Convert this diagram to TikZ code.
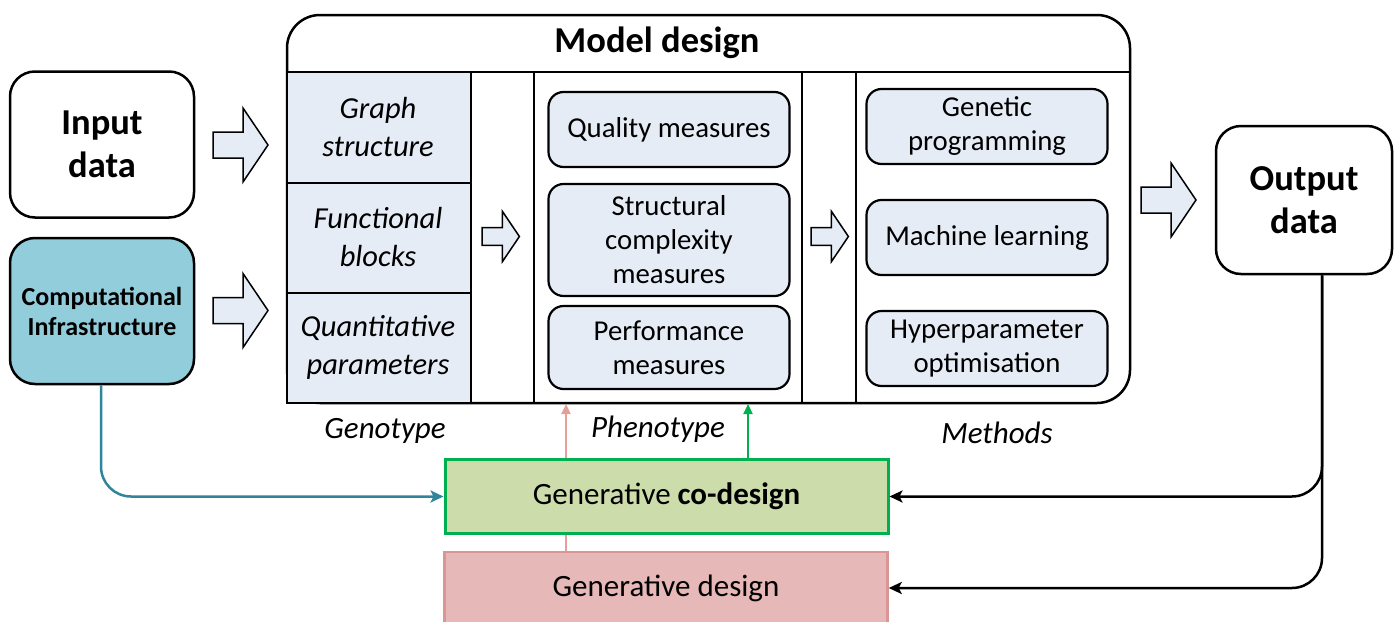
\documentclass[tikz,border=0pt]{standalone}
\usepackage{fontspec}
\setmainfont{Carlito}
\usetikzlibrary{arrows.meta,calc}
\definecolor{lblue}{RGB}{230,236,246}
\definecolor{tealfill}{RGB}{146,205,220}
\definecolor{tealline}{RGB}{49,133,155}
\definecolor{cdfill}{RGB}{204,220,170}
\definecolor{cdline}{RGB}{0,176,80}
\definecolor{gdfill}{RGB}{230,184,183}
\definecolor{gdline}{RGB}{217,150,148}
\definecolor{pinkline}{RGB}{228,160,152}
\tikzset{
  bigbox/.style={draw, line width=2.5pt, rounded corners=25pt, fill=white, align=center,
    minimum width=184pt, minimum height=146pt, inner sep=0pt,
    font=\fontsize{36.5}{43}\selectfont\bfseries},
  inbox/.style={draw, line width=2.2pt, rounded corners=15pt, fill=lblue, align=center,
    minimum width=241pt, inner sep=0pt, font=\fontsize{28.8}{34}\selectfont},
  genotext/.style={align=center, inner sep=0pt, font=\fontsize{30.5}{38}\selectfont\itshape},
  collabel/.style={inner sep=0pt, font=\fontsize{31}{36}\selectfont\itshape},
  colline/.style={line width=1.5pt},
  barrow/.pic={\draw[line width=1.5pt, fill=lblue, line join=miter]
     (0,-13) -- (30,-13) -- (30,-37) -- (55,0) -- (30,37) -- (30,13) -- (0,13) -- cycle;},
  tip/.style={-{Stealth[length=13pt,width=12pt,inset=3pt]}},
  smalltip/.style={-{Triangle[length=10pt,width=9pt]}}
}
\begin{document}
\begin{tikzpicture}[x=1pt,y=-1pt]
\useasboundingbox (0,0) rectangle (1394,621);

% input side
\node[bigbox] (in) at (102,144.5) {Input\\data};
\node[bigbox, fill=tealfill, font=\fontsize{26}{30}\selectfont\bfseries] (ci) at (102,311) {Computational\\Infrastructure};
\pic at (213,145) {barrow};
\pic at (213,310.5) {barrow};

% model design box
\node[draw, line width=2.5pt, rounded corners=33pt, fill=white, minimum width=843pt,
      minimum height=388pt, inner sep=0pt] (model) at (708.5,209) {};
\fill[lblue] (287,72) rectangle (471,403);
\draw[line width=2.5pt] (287,60) -- (287,403) -- (600,403);
\draw[line width=2.5pt] (model.west |- 0,72) -- (model.east |- 0,72);
\node[inner sep=0pt, font=\fontsize{36.5}{42}\selectfont\bfseries] (title) at (657,43) {Model design};
\foreach \x in {471,534,802,856} \draw[colline] (\x,72) -- (\x,403);
\draw[colline] (287,183) -- (471,183);
\draw[colline] (287,293) -- (471,293);

\node[genotext] (g1) at (378,127) {Graph\\structure};
\node[genotext] (g2) at (378,237) {Functional\\blocks};
\node[genotext] (g3) at (378,347) {Quantitative\\parameters};

\pic[scale=0.68] at (482,236.5) {barrow};
\pic[scale=0.68] at (811,236.5) {barrow};

\node[inbox, minimum height=75pt] (q) at (669,129.5) {Quality measures};
\node[inbox, minimum height=112pt] (s) at (669,240) {Structural\\complexity\\measures};
\node[inbox, minimum height=83pt] (p) at (669,347.5) {Performance\\measures};

\node[inbox, minimum height=75pt] (gp) at (987,126.5) {Genetic\\programming};
\node[inbox, minimum height=75pt] (ml) at (987,237.5) {Machine learning};
\node[inbox, minimum height=75pt] (hp) at (987,348.5) {Hyperparameter\\optimisation};

\node[collabel] (lg) at (385,431) {Genotype};
\node[collabel] (lp) at (658,429) {Phenotype};
\node[collabel] (lm) at (997,433) {Methods};

% output
\pic at (1141,200) {barrow};
\node[bigbox, minimum width=176pt, minimum height=148pt] (out) at (1304,200) {Output\\data};

% bottom boxes
\coordinate (pk) at (566,0);
\coordinate (gr) at (748,0);
\coordinate (mb) at (0,404);
\node[draw=gdline, line width=2.5pt, fill=gdfill, minimum width=443pt, minimum height=72pt,
      inner sep=0pt, font=\fontsize{31}{36}\selectfont] (gd) at (666,588) {Generative design};
\draw[pinkline, line width=2.2pt, smalltip] (gd.north -| pk) -- (pk |- mb);
\node[draw=cdline, line width=3pt, fill=cdfill, minimum width=443pt, minimum height=74pt,
      inner sep=0pt, font=\fontsize{31}{36}\selectfont] (cd) at (666.5,496.5) {Generative \textbf{co-design}};
\draw[cdline, line width=2.2pt, smalltip] (cd.north -| gr) -- (gr |- mb);

% connectors
\draw[tealline, line width=2.5pt, tip, rounded corners=30pt] (ci.south -| 101,0) |- (cd.west);
\coordinate (od) at ([xshift=18pt]out.south);
\draw[line width=2.5pt, tip, rounded corners=30pt] (od) |- (cd.east);
\draw[line width=2.5pt, tip, rounded corners=30pt] (od) |- (gd.east);
\end{tikzpicture}
\end{document}
